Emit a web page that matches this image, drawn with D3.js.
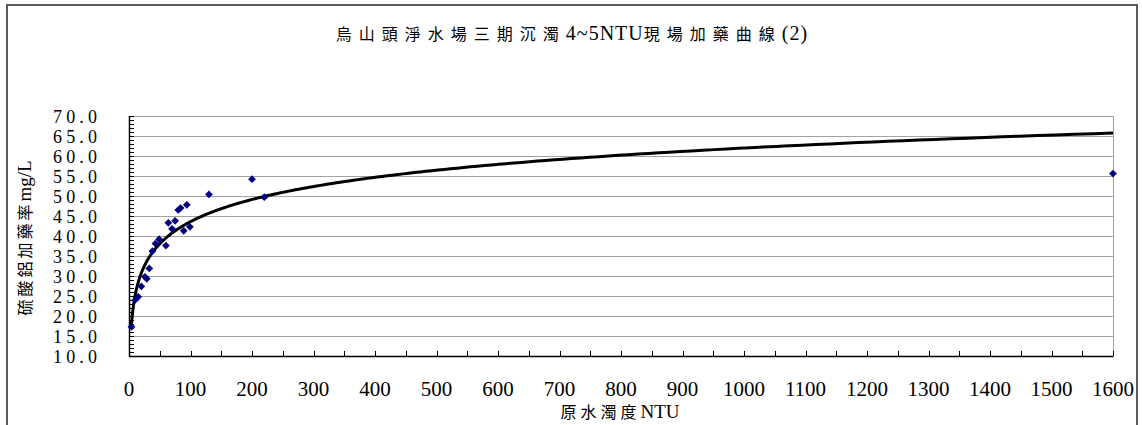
<!DOCTYPE html>
<html>
<head>
<meta charset="utf-8">
<script src="https://cdn.jsdelivr.net/npm/d3@7"></script>
<style>
  body { margin: 0; background: #fff; }
  text { fill: #000; }
</style>
</head>
<body>
<svg id="chart" width="1142" height="425"></svg>
<script>
// Raw-water turbidity (NTU) and the alum dose applied at the plant (mg/L)
const turbidity = [4, 10, 15, 20, 26, 29, 33, 38, 43, 49, 60, 64, 70, 75, 80, 84, 89, 94, 99, 130, 200, 220, 1600];
const dosage    = [17.3, 24.0, 24.8, 27.4, 29.8, 29.3, 31.9, 36.2, 38.1, 39.2, 37.6, 43.3, 41.8, 43.8, 46.5, 47.0, 41.3, 47.8, 42.3, 50.4, 54.2, 49.7, 55.6];

const xTickValues = d3.range(0, 1601, 100);
const yTickValues = d3.range(10, 70.01, 5);
const titleParts = [
  { text: "烏山頭淨水場三期沉濁", cjk: true },
  { text: "4~5NTU", cjk: false },
  { text: "現場加藥曲線", cjk: true },
  { text: "(2)", cjk: false }
];
const xTitleParts = [
  { text: "原水濁度", cjk: true },
  { text: "NTU", cjk: false }
];
const yTitleParts = [
  { text: "硫酸鋁加藥率", cjk: true },
  { text: "mg/L", cjk: false }
];

const W = 1142, H = 425;
const plot = { left: 129, right: 1113, top: 116, bottom: 356 };
const serif = "'Liberation Serif', 'DejaVu Serif', serif";
const cjkFont = "'Noto Sans CJK TC', 'Noto Sans CJK SC', sans-serif";

const svg = d3.select("#chart");
svg.append("rect").attr("width", W).attr("height", H).attr("fill", "#fff");

// outer chart frame
svg.append("rect")
  .attr("x", 7).attr("y", 5)
  .attr("width", 1130).attr("height", 440)
  .attr("fill", "none").attr("stroke", "#333").attr("stroke-width", 1.6);

const x = d3.scaleLinear().domain([0, 1600]).range([plot.left, plot.right]);
const y = d3.scaleLinear().domain([10, 70]).range([plot.bottom, plot.top]);

// horizontal gridlines
svg.append("g")
  .selectAll("line")
  .data(yTickValues.filter(v => v > 10))
  .join("line")
  .attr("x1", plot.left).attr("x2", plot.right)
  .attr("y1", d => Math.round(y(d)) + 0.5).attr("y2", d => Math.round(y(d)) + 0.5)
  .attr("stroke", "#a3a3a3").attr("stroke-width", 1);

// right edge of the plot area
svg.append("line")
  .attr("x1", Math.round(x(1600)) + 0.5).attr("x2", Math.round(x(1600)) + 0.5)
  .attr("y1", plot.top).attr("y2", plot.bottom)
  .attr("stroke", "#a3a3a3").attr("stroke-width", 1);

// y axis: minor ticks every 1 mg/L pointing into the plot
const yMinor = d3.range(10, 70.01, 1);
svg.append("g")
  .selectAll("line")
  .data(yMinor)
  .join("line")
  .attr("x1", plot.left).attr("x2", plot.left + 5)
  .attr("y1", d => Math.round(y(d)) + 0.5).attr("y2", d => Math.round(y(d)) + 0.5)
  .attr("stroke", "#000").attr("stroke-width", 1);

// x axis: ticks every 50 NTU pointing into the plot
const xMinor = d3.range(0, 1601, 50);
svg.append("g")
  .selectAll("line")
  .data(xMinor)
  .join("line")
  .attr("x1", d => Math.round(x(d)) + 0.5).attr("x2", d => Math.round(x(d)) + 0.5)
  .attr("y1", plot.bottom).attr("y2", plot.bottom - 5)
  .attr("stroke", "#000").attr("stroke-width", 1);

// axis lines
svg.append("line")
  .attr("x1", plot.left + 0.5).attr("x2", plot.left + 0.5)
  .attr("y1", plot.top).attr("y2", plot.bottom + 0.5)
  .attr("stroke", "#000").attr("stroke-width", 1.5);
svg.append("line")
  .attr("x1", plot.left).attr("x2", plot.right + 0.5)
  .attr("y1", plot.bottom + 0.5).attr("y2", plot.bottom + 0.5)
  .attr("stroke", "#000").attr("stroke-width", 1.5);

// y tick labels
svg.append("g")
  .selectAll("text")
  .data(yTickValues)
  .join("text")
  .attr("x", 97)
  .attr("y", d => y(d) + 6.5)
  .attr("text-anchor", "end")
  .attr("textLength", 44)
  .attr("lengthAdjust", "spacing")
  .style("font-family", serif)
  .style("font-size", "18px")
  .text(d => d3.format(".1f")(d));

// x tick labels
svg.append("g")
  .selectAll("text")
  .data(xTickValues)
  .join("text")
  .attr("x", d => x(d))
  .attr("y", 396)
  .attr("text-anchor", "middle")
  .style("font-family", serif)
  .style("font-size", "21px")
  .text(d => d);

// mixed CJK / Latin titles
function mixedText(sel, parts, cjkSize, latinSize, cjkSpacing, latinSpacing) {
  sel.selectAll("tspan")
    .data(parts)
    .join("tspan")
    .style("font-family", d => d.cjk ? cjkFont : serif)
    .style("font-size", d => (d.cjk ? cjkSize : latinSize) + "px")
    .style("letter-spacing", d => (d.cjk ? cjkSpacing : latinSpacing) + "px")
    .text(d => d.text);
}

const title = svg.append("text")
  .attr("x", 572).attr("y", 40)
  .attr("text-anchor", "middle");
mixedText(title, titleParts, 16, 20, 7, 1);

const xTitle = svg.append("text")
  .attr("x", 620).attr("y", 418)
  .attr("text-anchor", "middle");
mixedText(xTitle, xTitleParts, 16, 19, 4, 0);

const yTitle = svg.append("text")
  .attr("transform", "translate(31,238) rotate(-90)")
  .attr("text-anchor", "middle");
mixedText(yTitle, yTitleParts, 16, 19, 3, 0);

// logarithmic trendline fitted by least squares: dose = a * ln(NTU) + b
const lx = turbidity.map(Math.log);
const mx = d3.mean(lx), my = d3.mean(dosage);
const sxy = d3.sum(lx, (v, i) => (v - mx) * (dosage[i] - my));
const sxx = d3.sum(lx, v => (v - mx) * (v - mx));
const a = sxy / sxx, b = my - a * mx;
const xMin = d3.min(turbidity), xMax = d3.max(turbidity);
const trend = d3.range(0, 301).map(i => {
  const t = xMin * Math.pow(xMax / xMin, i / 300);
  return [t, a * Math.log(t) + b];
});

svg.append("path")
  .datum(trend)
  .attr("fill", "none")
  .attr("stroke", "#000")
  .attr("stroke-width", 3)
  .attr("stroke-linejoin", "round")
  .attr("d", d3.line().x(d => x(d[0])).y(d => y(d[1])));

// observed points as navy diamonds
const diamond = d3.symbol(d3.symbolSquare, 30);
svg.append("g")
  .selectAll("path")
  .data(turbidity.map((t, i) => [t, dosage[i]]))
  .join("path")
  .attr("transform", d => `translate(${x(d[0])},${y(d[1])}) rotate(45)`)
  .attr("d", diamond)
  .attr("fill", "#000080");
</script>
</body>
</html>
